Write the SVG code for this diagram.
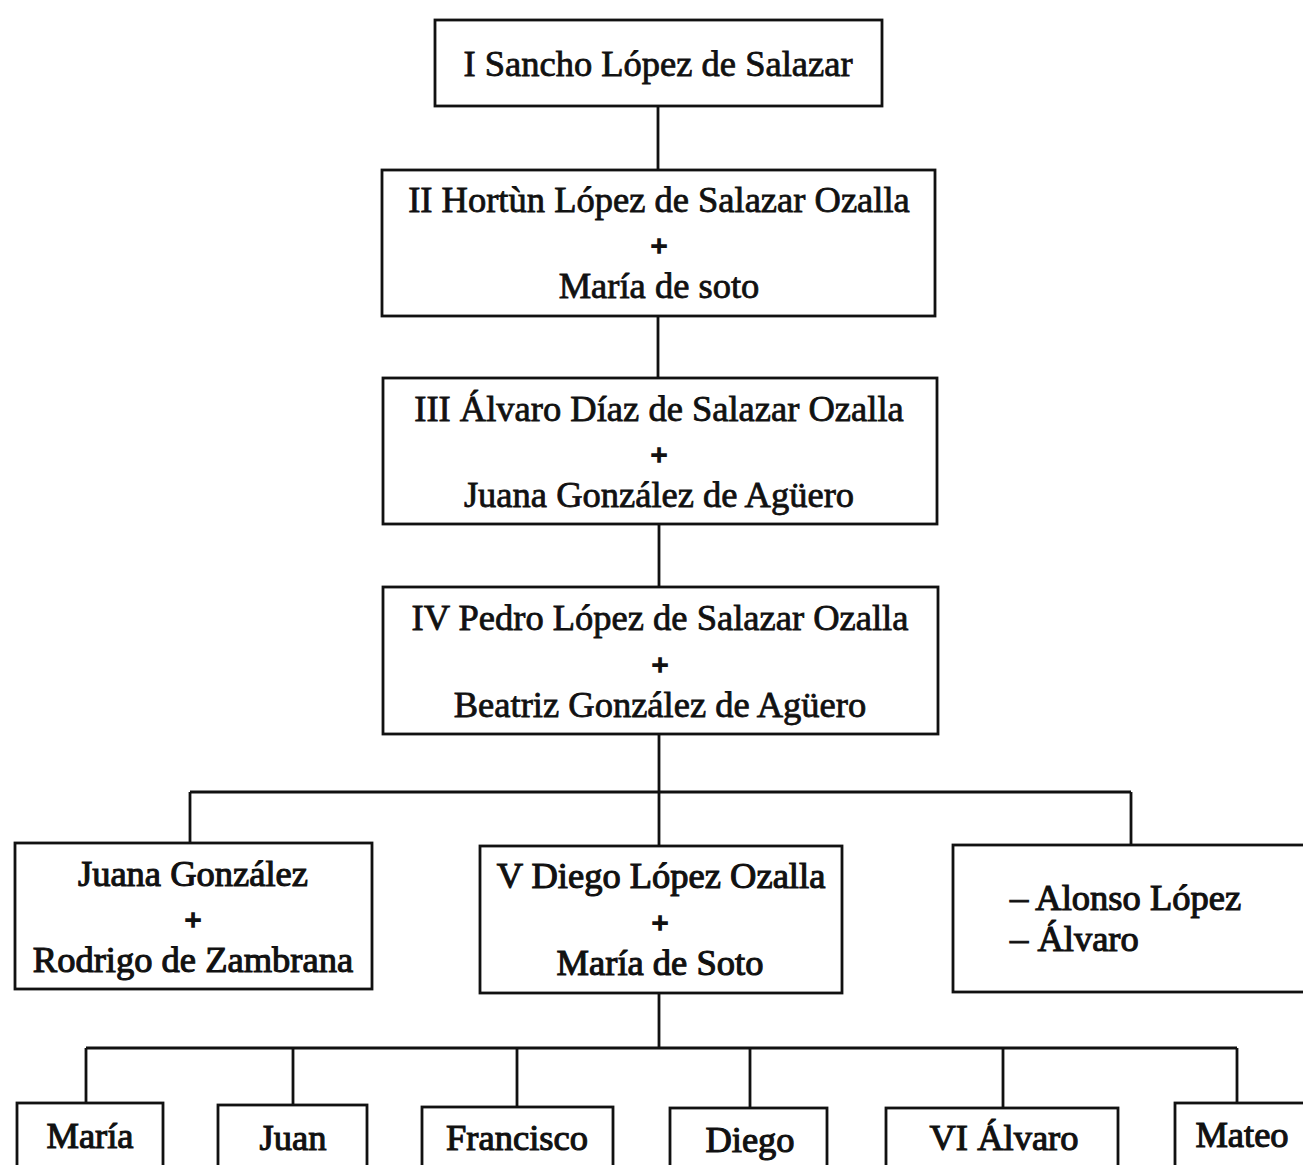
<svg xmlns="http://www.w3.org/2000/svg" width="1303" height="1165" viewBox="0 0 1303 1165">
<style>
.box{fill:#fff;stroke:#111;stroke-width:2.8}
.ln{fill:none;stroke:#111;stroke-width:2.8}
.t{font-family:"Liberation Serif","Times New Roman",serif;font-size:36.5px;fill:#111;stroke:#111;stroke-width:0.8;text-anchor:middle}
.b{stroke-width:1.1}
.tl{text-anchor:start}
.p{font-family:"Liberation Serif","Times New Roman",serif;font-size:30px;font-weight:bold;fill:#111;stroke:#111;stroke-width:1.6;text-anchor:middle}
</style>
<rect width="1303" height="1165" fill="#fff"/>
<g id="connectors">
<line class="ln" x1="658" y1="106" x2="658" y2="170"/>
<line class="ln" x1="658" y1="316" x2="658" y2="378"/>
<line class="ln" x1="659" y1="524" x2="659" y2="587"/>
<line class="ln" x1="659" y1="734" x2="659" y2="846"/>
<line class="ln" x1="190" y1="792" x2="1131" y2="792"/>
<line class="ln" x1="190" y1="792" x2="190" y2="843"/>
<line class="ln" x1="1131" y1="792" x2="1131" y2="845"/>
<line class="ln" x1="659" y1="993" x2="659" y2="1048"/>
<line class="ln" x1="86" y1="1048" x2="1237" y2="1048"/>
<line class="ln" x1="86" y1="1048" x2="86" y2="1103"/>
<line class="ln" x1="293" y1="1048" x2="293" y2="1105"/>
<line class="ln" x1="517" y1="1048" x2="517" y2="1107"/>
<line class="ln" x1="750" y1="1048" x2="750" y2="1108"/>
<line class="ln" x1="1003" y1="1048" x2="1003" y2="1108"/>
<line class="ln" x1="1237" y1="1048" x2="1237" y2="1103"/>
</g>
<g id="n1">
<rect class="box" x="435" y="20" width="447" height="86"/>
<text class="t" x="658" y="76">I Sancho López de Salazar</text>
</g>
<g id="n2">
<rect class="box" x="382" y="170" width="553" height="146"/>
<text class="t" x="659" y="212">II Hortùn López de Salazar Ozalla</text>
<text class="p" x="659" y="256">+</text>
<text class="t" x="659" y="298">María de soto</text>
</g>
<g id="n3">
<rect class="box" x="383" y="378" width="554" height="146"/>
<text class="t" x="659" y="421">III Álvaro Díaz de Salazar Ozalla</text>
<text class="p" x="659" y="465">+</text>
<text class="t" x="659" y="507">Juana González de Agüero</text>
</g>
<g id="n4">
<rect class="box" x="383" y="587" width="555" height="147"/>
<text class="t" x="660" y="630">IV Pedro López de Salazar Ozalla</text>
<text class="p" x="660" y="675">+</text>
<text class="t" x="660" y="717">Beatriz González de Agüero</text>
</g>
<g id="n5a">
<rect class="box" x="15" y="843" width="357" height="146"/>
<text class="t b" x="193" y="886">Juana González</text>
<text class="p" x="193" y="930">+</text>
<text class="t b" x="193" y="972">Rodrigo de Zambrana</text>
</g>
<g id="n5">
<rect class="box" x="480" y="846" width="362" height="147"/>
<text class="t b" x="661" y="888">V Diego López Ozalla</text>
<text class="p" x="660" y="933">+</text>
<text class="t b" x="660" y="975">María de Soto</text>
</g>
<g id="n5c">
<rect class="box" x="953" y="845" width="360" height="147"/>
<text class="t tl b" x="1010" y="910">– Alonso López</text>
<text class="t tl b" x="1010" y="951">– Álvaro</text>
</g>
<g id="c1">
<rect class="box" x="17" y="1103" width="146" height="80"/>
<text class="t b" x="90" y="1148">María</text>
</g>
<g id="c2">
<rect class="box" x="218" y="1105" width="149" height="80"/>
<text class="t b" x="293" y="1150">Juan</text>
</g>
<g id="c3">
<rect class="box" x="422" y="1107" width="191" height="80"/>
<text class="t b" x="517" y="1150">Francisco</text>
</g>
<g id="c4">
<rect class="box" x="670" y="1108" width="157" height="80"/>
<text class="t b" x="750" y="1152">Diego</text>
</g>
<g id="c5">
<rect class="box" x="886" y="1108" width="232" height="80"/>
<text class="t b" x="1004" y="1150">VI Álvaro</text>
</g>
<g id="c6">
<rect class="box" x="1175" y="1103" width="140" height="80"/>
<text class="t b" x="1242" y="1147">Mateo</text>
</g>
</svg>
